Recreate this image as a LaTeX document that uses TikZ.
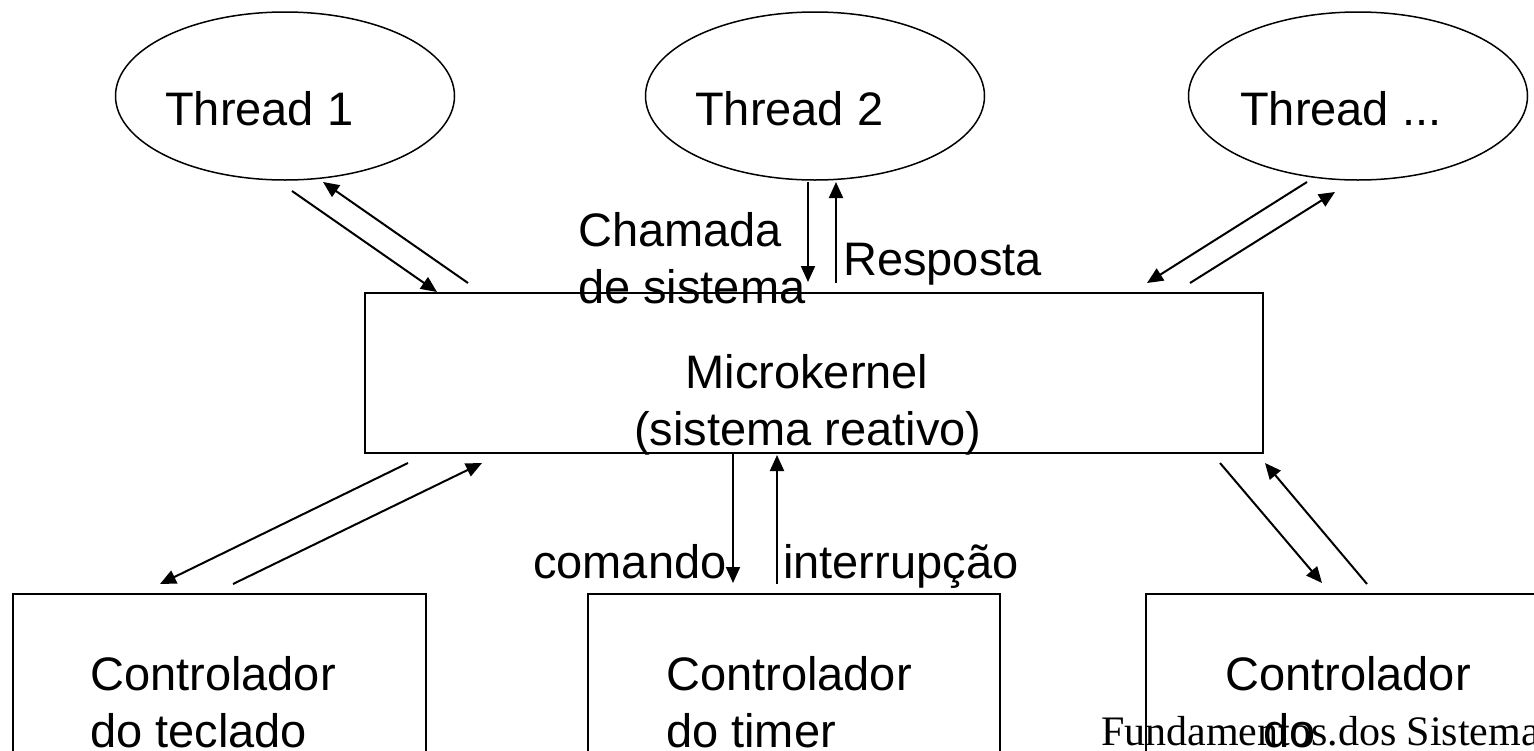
\documentclass[tikz,border=0pt]{standalone}
\usepackage{fontspec}
\setmainfont{Liberation Sans}
\newfontfamily\footfont{Liberation Serif}
\usetikzlibrary{arrows.meta,shapes.geometric}
\begin{document}
\begin{tikzpicture}[x=1pt,y=-1pt,
  lbl/.style={inner sep=0pt, anchor=base west, font=\fontsize{47pt}{57pt}\selectfont},
  thr/.style={draw, line width=1.5pt, ellipse, minimum width=339pt, minimum height=168pt, inner sep=0pt},
  boxnode/.style={draw, line width=2pt, rectangle, inner sep=0pt},
  arr/.style={line width=2pt, -{Triangle[length=16pt,width=14pt]}}]
\useasboundingbox (0,0) rectangle (1534,750);
\clip (0,0) rectangle (1534,750);
\fill[white] (0,0) rectangle (1534,750);

% threads
\node[thr] (t1) at (285,96) {};
\node[thr] (t2) at (815,96) {};
\node[thr] (t3) at (1358,96) {};
\node[lbl] (t1txt) at (165,125) {Thread 1};
\node[lbl] (t2txt) at (695,125) {Thread 2};
\node[lbl] (t3txt) at (1240,125) {Thread ...};

% microkernel
\node[boxnode, minimum width=898pt, minimum height=160pt] (mk) at (814,373) {};
\node[lbl, anchor=base] (mk1) at (807,388) {Microkernel};
\node[lbl, anchor=base] (mk2) at (808,445) {(sistema reativo)};

% controllers
\node[boxnode, anchor=north west, minimum width=413pt, minimum height=240pt] (kb) at (12,593) {};
\node[boxnode, anchor=north west, minimum width=412pt, minimum height=240pt] (tm) at (587,593) {};
\node[boxnode, anchor=north west, minimum width=413pt, minimum height=240pt] (c3) at (1145,593) {};
\node[lbl] (kb1) at (90,690) {Controlador};
\node[lbl] (kb2) at (90,747) {do teclado};
\node[lbl] (tm1) at (666,690) {Controlador};
\node[lbl] (tm2) at (666,747) {do timer};
\node[lbl] (c31) at (1225,690) {Controlador};
\node[lbl] (c32) at (1263,747) {do};

% labels
\node[lbl] (ch1) at (578,246) {Chamada};
\node[lbl] (ch2) at (578,303) {de sistema};
\node[lbl] (resp) at (843,275) {Resposta};
\node[lbl] (cmd) at (533,578) {comando};
\node[lbl] (intr) at (783,578) {interrupção};

% footer
\node[inner sep=0pt, anchor=base west, font=\footfont\fontsize{42pt}{50pt}\selectfont] (foot) at (1101,745) {Fundamentos.dos Sistema};

% arrow end points
\coordinate (a1s) at (292,191);  \coordinate (a1e) at (437,292);
\coordinate (b1s) at (468,283);  \coordinate (b1e) at (323,182);
\coordinate (a2s) at (808,182);  \coordinate (a2e) at (808,282);
\coordinate (b2s) at (836,283);  \coordinate (b2e) at (836,182);
\coordinate (a3s) at (1307,182); \coordinate (a3e) at (1147,283);
\coordinate (b3s) at (1190,283); \coordinate (b3e) at (1335,192);
\coordinate (e1s) at (408,463);  \coordinate (e1e) at (160,584);
\coordinate (f1s) at (233,584);  \coordinate (f1e) at (482,463);
\coordinate (e2s) at (733,453);  \coordinate (e2e) at (733,583);
\coordinate (f2s) at (777,584);  \coordinate (f2e) at (777,455);
\coordinate (e3s) at (1220,463); \coordinate (e3e) at (1322,583);
\coordinate (f3s) at (1367,584); \coordinate (f3e) at (1265,463);

\draw[arr] (a1s) -- (a1e);
\draw[arr] (b1s) -- (b1e);
\draw[arr] (a2s) -- (a2e);
\draw[arr] (b2s) -- (b2e);
\draw[arr] (a3s) -- (a3e);
\draw[arr] (b3s) -- (b3e);
\draw[arr] (e1s) -- (e1e);
\draw[arr] (f1s) -- (f1e);
\draw[arr] (e2s) -- (e2e);
\draw[arr] (f2s) -- (f2e);
\draw[arr] (e3s) -- (e3e);
\draw[arr] (f3s) -- (f3e);
\end{tikzpicture}
\end{document}
